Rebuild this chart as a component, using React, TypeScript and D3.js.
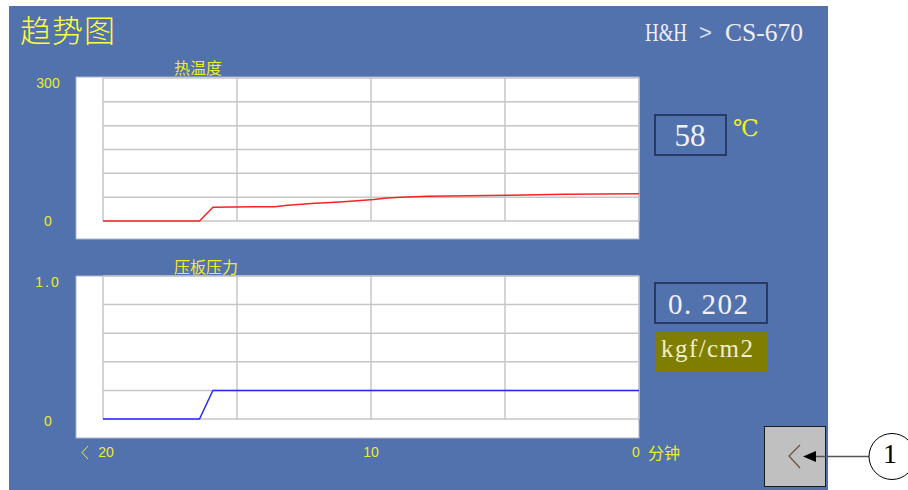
import React from "react";
import * as d3 from "d3";

// ---- data ----
const tempSeries: [number, number][] = [
  [20, 0], [16.4, 0], [15.9, 29], [13.6, 30], [13.1, 33], [12.6, 35], [12.1, 37],
  [11.5, 39], [10.9, 41], [10.4, 43], [9.9, 45], [9.4, 48], [8.9, 50], [7.9, 52],
  [4.8, 54], [2.8, 56], [0, 57],
];
const pressSeries: [number, number][] = [
  [20, 0], [16.4, 0], [15.9, 0.2], [0, 0.2],
];
const xTicks = [20, 15, 10, 5, 0];
const tempTicks = [0, 50, 100, 150, 200, 250, 300];
const pressTicks = [0, 0.2, 0.4, 0.6, 0.8, 1.0];
const tempLabels = ["300", "0"];
const pressLabels = ["1.0", "0"];
const xLabels = ["20", "10", "0"];
const title = "趋势图";
const breadcrumb = ["H&H", ">", "CS-670"];
const tempTitle = "热温度";
const pressTitle = "压板压力";
const tempValue = "58";
const pressValue = "0. 202";
const pressUnit = "kgf/cm2";
const tempUnit = "℃";
const minuteUnit = "分钟";

const BLUE = "#5272ae";
const YEL = "#ecec2c";
const GRID = "#c6c6c6";

export default function App() {
  const x = d3.scaleLinear().domain([20, 0]).range([103, 639]);
  const yT = d3.scaleLinear().domain([0, 300]).range([221, 78]);
  const yP = d3.scaleLinear().domain([0, 1]).range([419, 276]);
  const lineT = d3.line<[number, number]>().x((d) => x(d[0])).y((d) => yT(d[1]));
  const lineP = d3.line<[number, number]>().x((d) => x(d[0])).y((d) => yP(d[1]));
  const sans = "'Liberation Sans', Arial, sans-serif";
  const cjk = "'Noto Sans CJK SC', sans-serif";
  const serif = "'Liberation Serif', 'DejaVu Serif', serif";

  const panel = (yScale: any, ticks: number[], top: number, bottom: number, path: string, color: string) => (
    <g>
      <rect x={76} y={top} width={563} height={bottom - top} fill="#fff" stroke="#aab4cc" strokeWidth={1} />
      {ticks.map((t) => (
        <line key={"h" + t} x1={103} x2={639} y1={yScale(t)} y2={yScale(t)} stroke={GRID} strokeWidth={1.5} />
      ))}
      {xTicks.map((t) => (
        <line key={"v" + t} x1={x(t)} x2={x(t)} y1={yScale.range()[1]} y2={yScale.range()[0]} stroke={GRID} strokeWidth={1.5} />
      ))}
      <path d={path} fill="none" stroke={color} strokeWidth={1.5} />
    </g>
  );

  return (
    <div style={{ position: "absolute", left: 0, top: 0 }}>
      <svg width={908} height={490} style={{ display: "block" }}>
        <rect x={0} y={0} width={908} height={490} fill="#fff" />
        <rect x={9} y={6} width={819} height={484} fill={BLUE} />
        <text x={20} y={42} fontFamily={cjk} fontSize={31} fontWeight={300} fill="#ffff3c" textLength={95}>{title}</text>
        <text x={645} y={41} fontFamily={serif} fontSize={25} fill="#eeeef8" textLength={42} lengthAdjust="spacingAndGlyphs">{breadcrumb[0]}</text>
        <text x={699} y={40} fontFamily={sans} fontSize={22} fontWeight={300} fill="#dde0f0">{breadcrumb[1]}</text>
        <text x={725} y={41} fontFamily={serif} fontSize={25} fill="#eeeef8" textLength={78} lengthAdjust="spacingAndGlyphs">{breadcrumb[2]}</text>

        {panel(yT, tempTicks, 77, 239, lineT(tempSeries) || "", "#ff2222")}
        {panel(yP, pressTicks, 276, 438, lineP(pressSeries) || "", "#2a2aff")}

        <text x={174} y={67} dominantBaseline="central" fontFamily={cjk} fontSize={16} fill={YEL}>{tempTitle}</text>
        <text x={174} y={266} dominantBaseline="central" fontFamily={cjk} fontSize={16} fill={YEL}>{pressTitle}</text>

        <text x={48} y={yT(300) + 5} dominantBaseline="central" textAnchor="middle" fontFamily={sans} fontSize={14} fill={YEL}>{tempLabels[0]}</text>
        <text x={48} y={yT(0)} dominantBaseline="central" textAnchor="middle" fontFamily={sans} fontSize={14} fill={YEL}>{tempLabels[1]}</text>
        <text x={48} y={yP(1) + 6} dominantBaseline="central" textAnchor="middle" fontFamily={sans} fontSize={14} fill={YEL} letterSpacing={2}>{pressLabels[0]}</text>
        <text x={48} y={yP(0) + 2} dominantBaseline="central" textAnchor="middle" fontFamily={sans} fontSize={14} fill={YEL}>{pressLabels[1]}</text>

        <polyline points="88,446 82,452.5 88,459" fill="none" stroke={YEL} strokeWidth={1} />
        <text x={x(20) + 3} y={452} dominantBaseline="central" textAnchor="middle" fontFamily={sans} fontSize={14} fill={YEL}>{xLabels[0]}</text>
        <text x={x(10)} y={452} dominantBaseline="central" textAnchor="middle" fontFamily={sans} fontSize={14} fill={YEL}>{xLabels[1]}</text>
        <text x={x(0) - 3} y={452} dominantBaseline="central" textAnchor="middle" fontFamily={sans} fontSize={14} fill={YEL}>{xLabels[2]}</text>
        <text x={648} y={452} dominantBaseline="central" fontFamily={cjk} fontSize={16} fill={YEL}>{minuteUnit}</text>

        {/* temperature value */}
        <rect x={655} y={115} width={71} height={40} fill={BLUE} stroke="#1c2a4c" strokeWidth={1.5} />
        <text x={690} y={146} textAnchor="middle" fontFamily={serif} fontSize={31} fill="#f2f2ff">{tempValue}</text>
        <text x={733} y={136} fontFamily={serif} fontSize={23} fill="#f0f020">{tempUnit}</text>

        {/* pressure value */}
        <rect x={655} y={283} width={112} height={40} fill={BLUE} stroke="#1c2a4c" strokeWidth={1.5} />
        <text x={668} y={314} fontFamily={serif} fontSize={29} fill="#f2f2ff" textLength={80} xmlSpace="preserve">{pressValue}</text>
        <rect x={655} y={332} width={112} height={40} fill="#807e00" />
        <text x={661} y={357} fontFamily={serif} fontSize={25} fill="#f0f0c8" textLength={92}>{pressUnit}</text>

        {/* back button */}
        <rect x={764.5} y={426.5} width={61} height={60} fill="#c0c0c0" stroke="#1a1a1a" strokeWidth={1} />
        <polyline points="800,445 789,456 800,468" fill="none" stroke="#6a5040" strokeWidth={1.2} />
        <line x1={815} y1={456.5} x2={870} y2={456.5} stroke="#555" strokeWidth={1.5} />
        <polygon points="803,456.5 816,451 816,462" fill="#000" />
        <circle cx={892} cy={456.5} r={23} fill="#fff" stroke="#000" strokeWidth={1} />
        <text x={890} y={463} textAnchor="middle" fontFamily={serif} fontSize={28} fill="#000">1</text>
      </svg>
    </div>
  );
}
